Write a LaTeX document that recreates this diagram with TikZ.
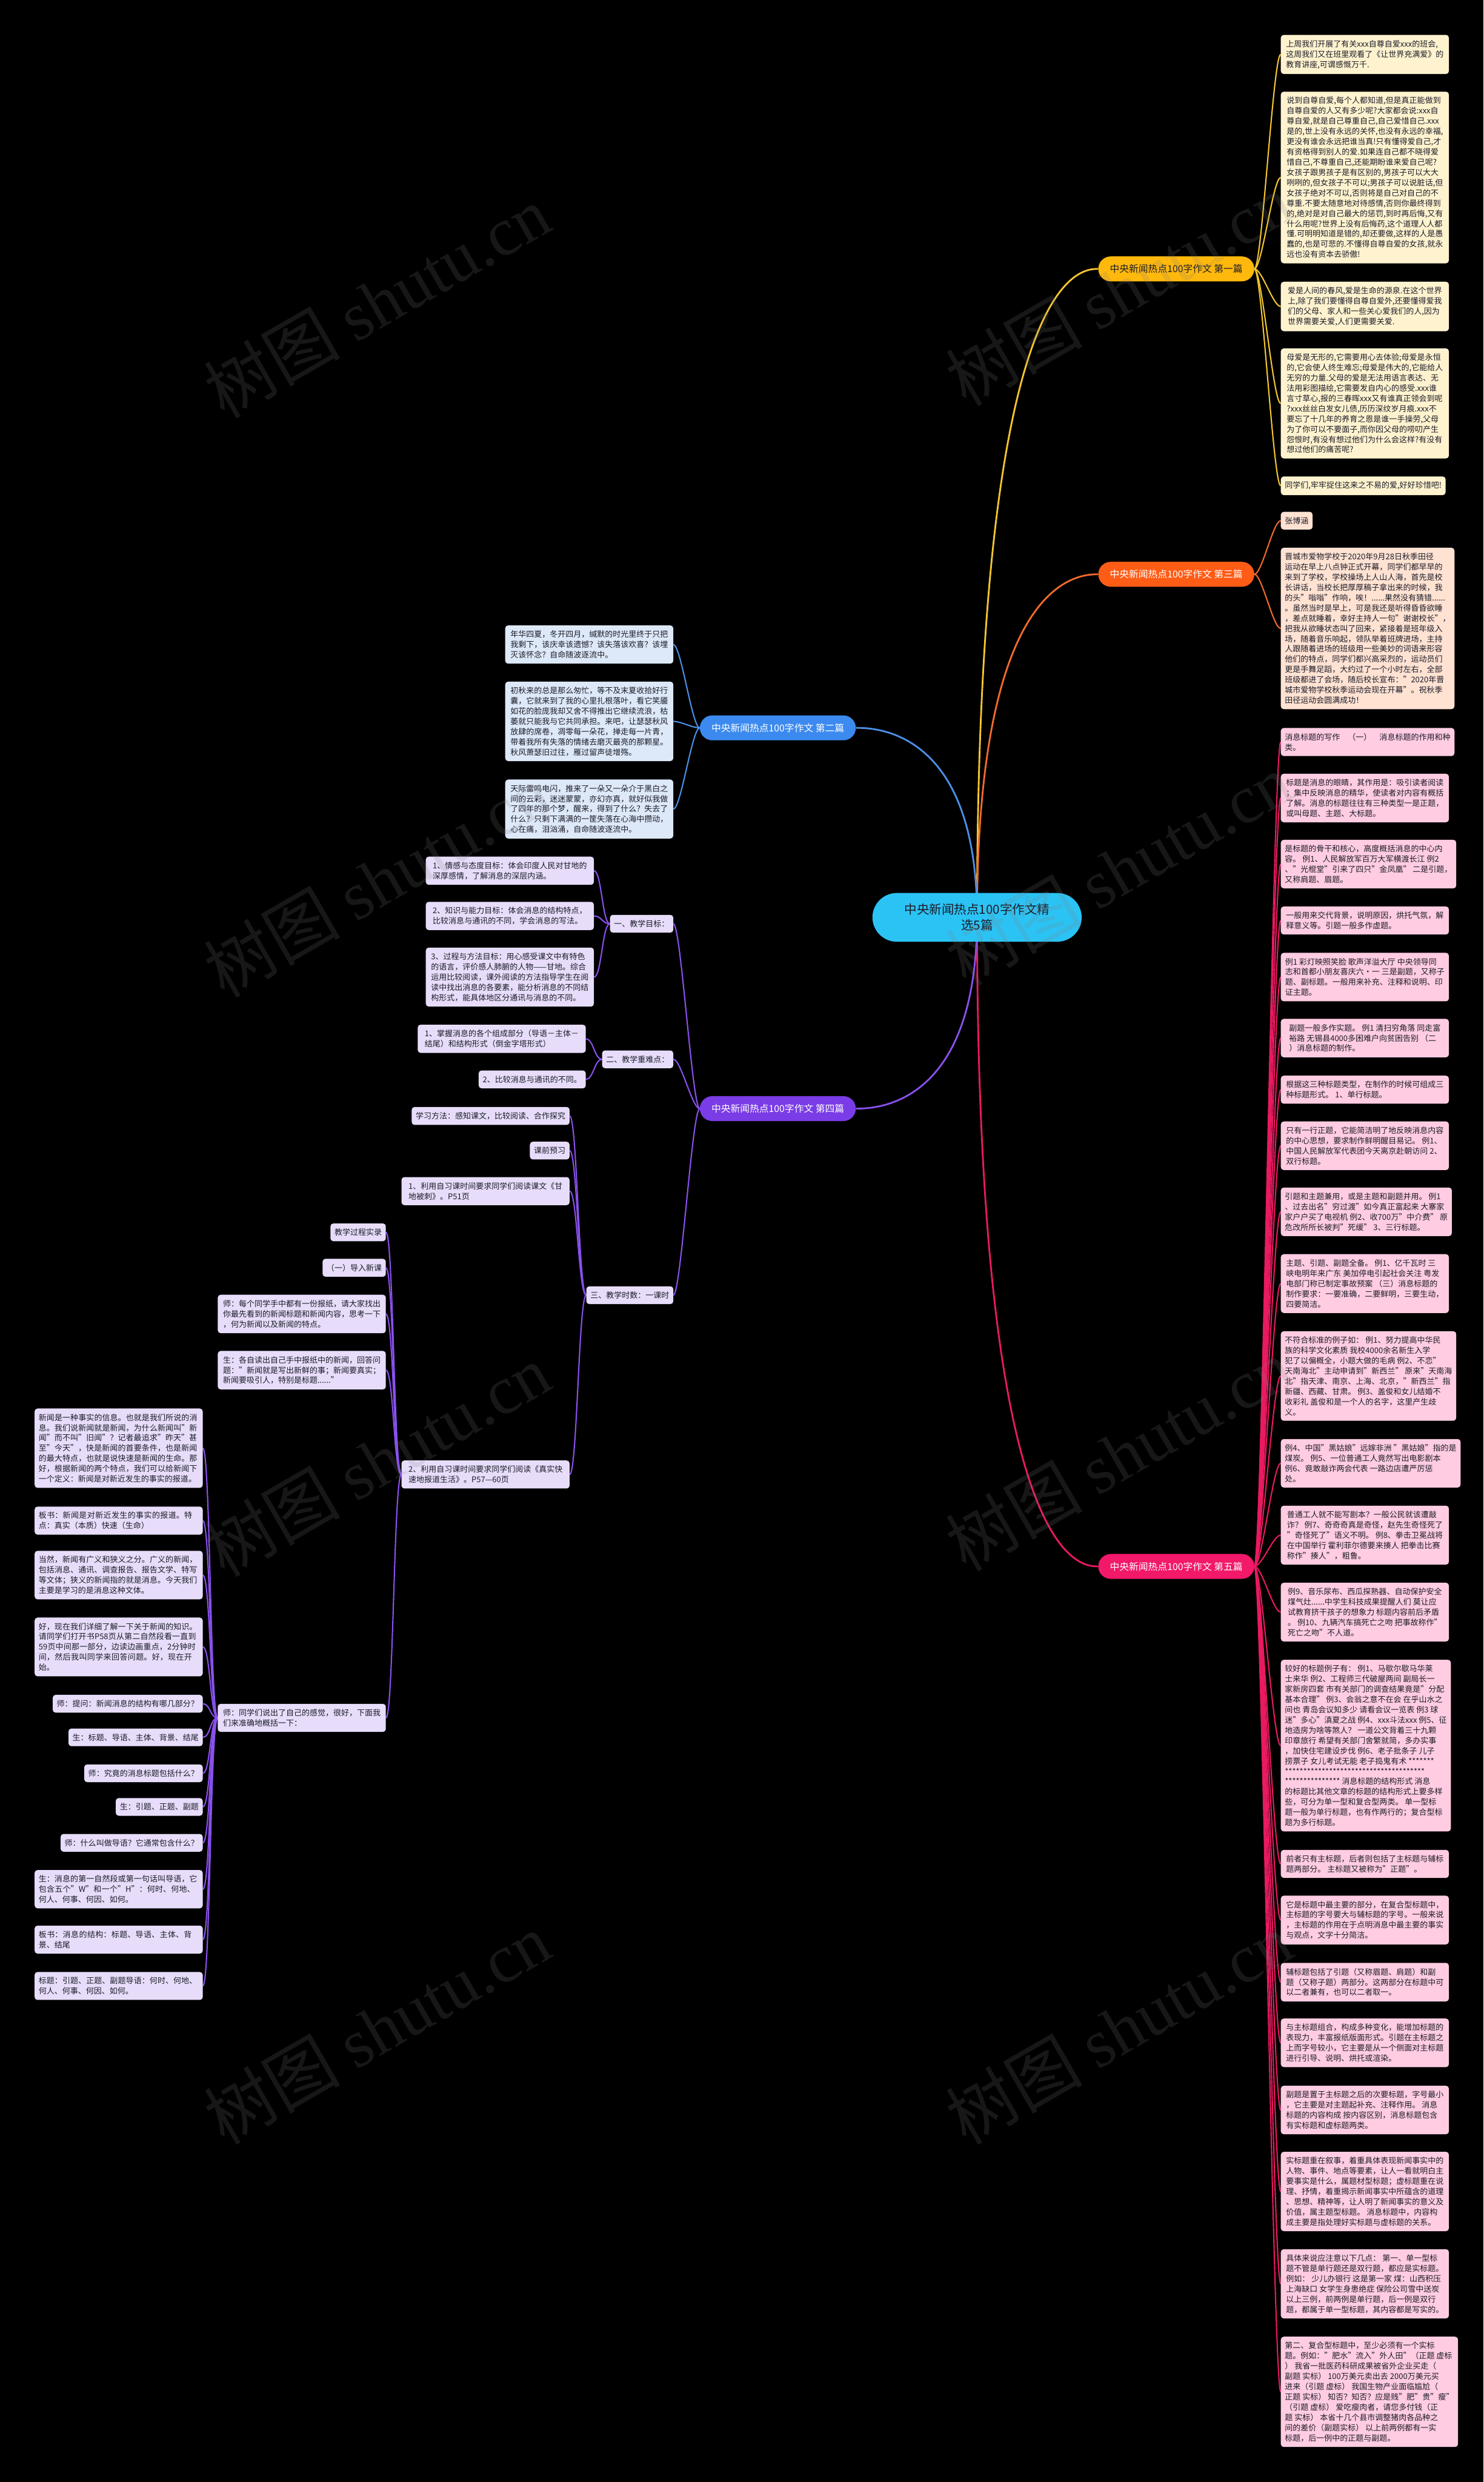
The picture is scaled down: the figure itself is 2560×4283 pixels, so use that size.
\documentclass[tikz,border=0pt]{standalone}
\usepackage{fontspec}
\setmainfont{Noto Sans CJK SC}
\newfontfamily\wmlatin{Liberation Serif}
\usetikzlibrary{backgrounds}
\definecolor{rootc}{HTML}{2BC3F4}
\definecolor{ambc}{HTML}{FFB80C}
\definecolor{ambl}{HTML}{F3C531}
\definecolor{ambf}{HTML}{FFF3CF}
\definecolor{orac}{HTML}{FF5C16}
\definecolor{oral}{HTML}{F26A2E}
\definecolor{oraf}{HTML}{FFE2D2}
\definecolor{bluc}{HTML}{3C8AF0}
\definecolor{blul}{HTML}{4C8FE6}
\definecolor{bluf}{HTML}{DDE8F8}
\definecolor{purc}{HTML}{7A3CE6}
\definecolor{purl}{HTML}{8950EC}
\definecolor{purf}{HTML}{E7DDFA}
\definecolor{pnkc}{HTML}{F2186A}
\definecolor{pnkl}{HTML}{E81A60}
\definecolor{pnkf}{HTML}{FFCCE2}
\definecolor{inkc}{HTML}{1C1C28}
\newcommand\leaffont{\fontsize{13.6}{17.7}\selectfont}
\newcommand\brfont{\fontsize{16.5}{20}\selectfont}
\newcommand\rootfont{\fontsize{21.5}{27}\selectfont}
\newcommand\wmsize{\fontsize{118}{118}\selectfont}
\newcommand\wrapcjk{\XeTeXlinebreaklocale "zh"\XeTeXlinebreakskip=0pt plus 1pt\relax}
\begin{document}
\begin{tikzpicture}[x=1pt,y=-1pt,
  rootbox/.style={fill=rootc,text=inkc,rounded corners=42pt,minimum width=361pt,minimum height=84pt,align=center,font=\rootfont,inner sep=0pt},
  brbox/.style={rounded corners=21.5pt,minimum height=43pt,inner xsep=20pt,inner ysep=0pt,font=\brfont,text=white},
  leaf/.style={rounded corners=5pt,inner xsep=7pt,inner ysep=9pt,font=\leaffont,align=left,text=inkc},
  full/.style={minimum width=290pt},
  wrap/.style={text width=276pt,font=\leaffont\wrapcjk},
  lfy/.style={leaf,fill=ambf},
  lfo/.style={leaf,fill=oraf},
  lfb/.style={leaf,fill=bluf},
  lfv/.style={leaf,fill=purf},
  lfp/.style={leaf,fill=pnkf},
  trunk/.style={line width=3pt},
  link/.style={line width=2.2pt},
  wm/.style={text=gray,opacity=0.18,font=\wmsize,rotate=30}]
\begin{scope}[on background layer]
\fill[black] (0,0) rectangle (2560,4283);
\end{scope}
\useasboundingbox (0,0) rectangle (2560,4283);

% centre and main branches
\node[rootbox] (root) at (1686,1583) {中央新闻热点100字作文精\\选5篇};
\node[brbox,fill=ambc,text=inkc,anchor=west] (b1) at (1895,464) {中央新闻热点100字作文 第一篇};
\node[brbox,fill=orac,anchor=west] (b3) at (1895,991) {中央新闻热点100字作文 第三篇};
\node[brbox,fill=pnkc,anchor=west] (b5) at (1895,2703) {中央新闻热点100字作文 第五篇};
\node[brbox,fill=bluc,anchor=east] (b2) at (1477,1256) {中央新闻热点100字作文 第二篇};
\node[brbox,fill=purc,anchor=east] (b4) at (1477,1913) {中央新闻热点100字作文 第四篇};

% 第一篇
\node[lfy,full,anchor=north west] (l1a) at (2210,60) {上周我们开展了有关xxx自尊自爱xxx的班会,\\这周我们又在班里观看了《让世界充满爱》的\\教育讲座,可谓感慨万千.};
\node[lfy,full,anchor=north west] (l1b) at (2210,158) {说到自尊自爱,每个人都知道,但是真正能做到\\自尊自爱的人又有多少呢?大家都会说:xxx自\\尊自爱,就是自己尊重自己,自己爱惜自己.xxx\\是的,世上没有永远的关怀,也没有永远的幸福,\\更没有谁会永远把谁当真!只有懂得爱自己,才\\有资格得到别人的爱.如果连自己都不晓得爱\\惜自己,不尊重自己,还能期盼谁来爱自己呢?\\女孩子跟男孩子是有区别的,男孩子可以大大\\咧咧的,但女孩子不可以;男孩子可以说脏话,但\\女孩子绝对不可以,否则将是自己对自己的不\\尊重.不要太随意地对待感情,否则你最终得到\\的,绝对是对自己最大的惩罚,到时再后悔,又有\\什么用呢?世界上没有后悔药,这个道理人人都\\懂.可明明知道是错的,却还要做,这样的人是愚\\蠢的,也是可悲的.不懂得自尊自爱的女孩,就永\\远也没有资本去骄傲!};
\node[lfy,full,anchor=north west] (l1c) at (2210,486) {爱是人间的春风,爱是生命的源泉.在这个世界\\上,除了我们要懂得自尊自爱外,还要懂得爱我\\们的父母、家人和一些关心爱我们的人,因为\\世界需要关爱,人们更需要关爱.};
\node[lfy,full,anchor=north west] (l1d) at (2210,601) {母爱是无形的,它需要用心去体验;母爱是永恒\\的,它会使人终生难忘;母爱是伟大的,它能给人\\无穷的力量.父母的爱是无法用语言表达、无\\法用彩图描绘,它需要发自内心的感受.xxx谁\\言寸草心,报的三春晖xxx又有谁真正领会到呢\\?xxx丝丝白发女儿债,历历深纹岁月痕.xxx不\\要忘了十几年的养育之恩是谁一手操劳,父母\\为了你可以不要面子,而你因父母的唠叨产生\\怨恨时,有没有想过他们为什么会这样?有没有\\想过他们的痛苦呢?};
\node[lfy,anchor=north west] (l1e) at (2210,822) {同学们,牢牢捉住这来之不易的爱,好好珍惜吧!};

% 第三篇
\node[lfo,anchor=north west] (l3a) at (2210,883) {张博涵};
\node[lfo,full,anchor=north west] (l3b) at (2210,945) {晋城市爱物学校于2020年9月28日秋季田径\\运动在早上八点钟正式开幕，同学们都早早的\\来到了学校，学校操场上人山人海，首先是校\\长讲话，当校长把厚厚稿子拿出来的时候，我\\的头"嗡嗡"作响，唉！......果然没有猜错......\\。虽然当时是早上，可是我还是听得昏昏欲睡\\，差点就睡着，幸好主持人一句"谢谢校长"，\\把我从欲睡状态叫了回来，紧接着是班年级入\\场，随着音乐响起，领队举着班牌进场，主持\\人跟随着进场的班级用一些美妙的词语来形容\\他们的特点，同学们都兴高采烈的，运动员们\\更是手舞足蹈，大约过了一个小时左右，全部\\班级都进了会场，随后校长宣布："2020年晋\\城市爱物学校秋季运动会现在开幕"。祝秋季\\田径运动会圆满成功！};

% 第五篇
\node[lfp,full,anchor=north west] (l5a) at (2210,1256) {消息标题的写作　（一）　消息标题的作用和种\\类。};
\node[lfp,full,anchor=north west] (l5b) at (2210,1335) {标题是消息的眼睛，其作用是：吸引读者阅读\\；集中反映消息的精华，使读者对内容有概括\\了解。消息的标题往往有三种类型一是正题，\\或叫母题、主题、大标题。};
\node[lfp,full,anchor=north west] (l5c) at (2210,1449) {是标题的骨干和核心，高度概括消息的中心内\\容。 例1、人民解放军百万大军横渡长江 例2\\、"光棍堂"引来了四只"金凤凰" 二是引题，\\又称肩题、眉题。};
\node[lfp,full,anchor=north west] (l5d) at (2210,1564) {一般用来交代背景，说明原因，烘托气氛，解\\释意义等。引题一般多作虚题。};
\node[lfp,full,anchor=north west] (l5e) at (2210,1644) {例1 彩灯映照笑脸 歌声洋溢大厅 中央领导同\\志和首都小朋友喜庆六·一 三是副题，又称子\\题、副标题。一般用来补充、注释和说明、印\\证主题。};
\node[lfp,full,anchor=north west] (l5f) at (2210,1758) {副题一般多作实题。 例1 清扫穷角落 同走富\\裕路 无锡县4000多困难户向贫困告别 （二\\）消息标题的制作。};
\node[lfp,full,anchor=north west] (l5g) at (2210,1856) {根据这三种标题类型，在制作的时候可组成三\\种标题形式。 1、单行标题。};
\node[lfp,full,anchor=north west] (l5h) at (2210,1935) {只有一行正题，它能简洁明了地反映消息内容\\的中心思想，要求制作鲜明醒目易记。 例1、\\中国人民解放军代表团今天离京赴朝访问 2、\\双行标题。};
\node[lfp,full,anchor=north west] (l5i) at (2210,2049) {引题和主题兼用，或是主题和副题并用。 例1\\、过去出名"穷过渡"如今真正富起来 大寨家\\家户户买了电视机 例2、收700万"中介费" 原\\危改所所长被判"死缓" 3、三行标题。};
\node[lfp,full,anchor=north west] (l5j) at (2210,2164) {主题、引题、副题全备。 例1、亿千瓦时 三\\峡电明年来广东 美加停电引起社会关注 粤发\\电部门称已制定事故预案 （三）消息标题的\\制作要求：一要准确，二要鲜明，三要生动，\\四要简洁。};
\node[lfp,full,anchor=north west] (l5k) at (2210,2297) {不符合标准的例子如：  例1、努力提高中华民\\族的科学文化素质 我校4000余名新生入学\\犯了以偏概全，小题大做的毛病 例2、不恋"\\天南海北"主动申请到"新西兰" 原来"天南海\\北"指天津、南京、上海、北京，"新西兰"指\\新疆、西藏、甘肃。 例3、盖俊和女儿结婚不\\收彩礼 盖俊和是一个人的名字，这里产生歧\\义。};
\node[lfp,full,anchor=north west] (l5l) at (2210,2483) {例4、中国"黑姑娘"远嫁非洲 "黑姑娘"指的是\\煤炭。 例5、一位普通工人竟然写出电影剧本\\例6、竟敢敲诈两会代表 一路边店遭严厉惩\\处。};
\node[lfp,full,anchor=north west] (l5m) at (2210,2598) {普通工人就不能写剧本？一般公民就该遭敲\\诈？ 例7、奇奇奇真是奇怪，赵先生奇怪死了\\"奇怪死了"语义不明。 例8、拳击卫冕战将\\在中国举行 霍利菲尔德要来揍人 把拳击比赛\\称作"揍人"，粗鲁。};
\node[lfp,full,anchor=north west] (l5n) at (2210,2731) {例9、音乐尿布、西瓜探熟器、自动保护安全\\煤气灶......中学生科技成果提醒人们 莫让应\\试教育挤干孩子的想象力 标题内容前后矛盾\\。 例10、九辆汽车搞死亡之吻 把事故称作"\\死亡之吻"不人道。};
\node[lfp,full,anchor=north west] (l5o) at (2210,2864) {较好的标题例子有：  例1、马歇尔歇马华莱\\士来华 例2、工程师三代破屋两间 副局长一\\家新房四套 市有关部门的调查结果竟是"分配\\基本合理" 例3、会翁之意不在会 在乎山水之\\间也 青岛会议知多少 请看会议一览表 例3 球\\迷"多心"滇夏之战 例4、xxx斗法xxx 例5、征\\地造房为啥等煞人？ 一道公文背着三十九颗\\印章旅行 希望有关部门舍繁就简，多办实事\\，加快住宅建设步伐 例6、老子批条子 儿子\\捞票子 女儿考试无能 老子捣鬼有术 *******\\**************************************\\*************** 消息标题的结构形式 消息\\的标题比其他文章的标题的结构形式上要多样\\些，可分为单一型和复合型两类。 单一型标\\题一般为单行标题，也有作两行的；复合型标\\题为多行标题。};
\node[lfp,full,anchor=north west] (l5p) at (2210,3192) {前者只有主标题，后者则包括了主标题与辅标\\题两部分。 主标题又被称为"正题"。};
\node[lfp,full,anchor=north west] (l5q) at (2210,3271) {它是标题中最主要的部分，在复合型标题中，\\主标题的字号要大与辅标题的字号。一般来说\\，主标题的作用在于点明消息中最主要的事实\\与观点，文字十分简洁。};
\node[lfp,full,anchor=north west] (l5r) at (2210,3387) {辅标题包括了引题（又称眉题、肩题）和副\\题（又称子题）两部分。这两部分在标题中可\\以二者兼有，也可以二者取一。};
\node[lfp,full,anchor=north west] (l5s) at (2210,3483) {与主标题组合，构成多种变化，能增加标题的\\表现力，丰富报纸版面形式。引题在主标题之\\上而字号较小，它主要是从一个侧面对主标题\\进行引导、说明、烘托或渲染。};
\node[lfp,full,anchor=north west] (l5t) at (2210,3599) {副题是置于主标题之后的次要标题，字号最小\\，它主要是对主题起补充、注释作用。 消息\\标题的内容构成 按内容区别，消息标题包含\\有实标题和虚标题两类。};
\node[lfp,full,anchor=north west] (l5u) at (2210,3713) {实标题重在叙事，着重具体表现新闻事实中的\\人物、事件、地点等要素，让人一看就明白主\\要事实是什么，属题材型标题；虚标题重在说\\理、抒情，着重揭示新闻事实中所蕴含的道理\\、思想、精神等，让人明了新闻事实的意义及\\价值，属主题型标题。 消息标题中，内容构\\成主要是指处理好实标题与虚标题的关系。};
\node[lfp,full,anchor=north west] (l5v) at (2210,3881) {具体来说应注意以下几点：  第一、单一型标\\题不管是单行题还是双行题，都应是实标题。\\例如： 少儿办银行 这是第一家 煤：山西积压\\上海缺口 女学生身患绝症 保险公司雪中送炭\\以上三例，前两例是单行题，后一例是双行\\题，都属于单一型标题，其内容都是写实的。};
\node[lfp,full,anchor=north west] (l5w) at (2210,4032) {第二、复合型标题中，至少必须有一个实标\\题。例如："肥水"流入"外人田"（正题 虚标\\） 我省一批医药科研成果被省外企业买走（\\副题 实标） 100万美元卖出去 2000万美元买\\进来（引题 虚标） 我国生物产业面临尴尬（\\正题 实标） 知否？知否？应是贱"肥"贵"瘦"\\（引题 虚标） 爱吃瘦肉者，请您多付钱（正\\题 实标） 本省十几个县市调整猪肉各品种之\\间的差价（副题实标） 以上前两例都有一实\\标题，后一例中的正题与副题。};

% 第二篇
\node[lfb,full,anchor=north east] (l2a) at (1162,1079) {年华四夏，冬开四月，缄默的时光里终于只把\\我剩下，该庆幸该遗憾？该失落该欢喜？该埋\\灭该怀念？自命随波逐流中。};
\node[lfb,full,anchor=north east] (l2b) at (1162,1176) {初秋来的总是那么匆忙，等不及末夏收拾好行\\囊，它就来到了我的心里扎根落叶，看它笑靥\\如花的脸庞我却又舍不得推出它继续流浪，枯\\萎就只能我与它共同承担。来吧，让瑟瑟秋风\\放肆的席卷，凋零每一朵花，掸走每一片青，\\带着我所有失落的情绪去磨灭最亮的那颗星。\\秋风萧瑟旧过往，雁过留声徒增殇。};
\node[lfb,full,anchor=north east] (l2c) at (1162,1345) {天际雷鸣电闪，推来了一朵又一朵介于黑白之\\间的云彩，迷迷蒙蒙，亦幻亦真，就好似我做\\了四年的那个梦，醒来，得到了什么？失去了\\什么？只剩下满满的一筐失落在心海中攒动，\\心在痛，泪汹涌，自命随波逐流中。};

% 第四篇
\node[lfv,anchor=east] (t1) at (1162,1594) {一、教学目标：};
\node[lfv,anchor=east] (t2) at (1162,1828) {二、教学重难点：};
\node[lfv,anchor=east] (t3) at (1162,2235) {三、教学时数：一课时};
\node[lfv,full,anchor=north east] (g1) at (1025,1478) {1、情感与态度目标：体会印度人民对甘地的\\深厚感情，了解消息的深层内涵。};
\node[lfv,full,anchor=north east] (g2) at (1025,1556) {2、知识与能力目标：体会消息的结构特点，\\比较消息与通讯的不同，学会消息的写法。};
\node[lfv,full,anchor=north east] (g3) at (1025,1635) {3、过程与方法目标：用心感受课文中有特色\\的语言，评价感人肺腑的人物——甘地。综合\\运用比较阅读，课外阅读的方法指导学生在阅\\读中找出消息的各要素，能分析消息的不同结\\构形式，能具体地区分通讯与消息的不同。};
\node[lfv,full,anchor=north east] (d1) at (1011,1768) {1、掌握消息的各个组成部分（导语－主体－\\结尾）和结构形式（倒金字塔形式）};
\node[lfv,anchor=north east] (d2) at (1011,1847) {2、比较消息与通讯的不同。};
\node[lfv,anchor=north east] (s1) at (983,1910) {学习方法：感知课文，比较阅读、合作探究};
\node[lfv,anchor=north east] (s2) at (983,1970) {课前预习};
\node[lfv,full,anchor=north east] (s3) at (983,2031) {1、利用自习课时间要求同学们阅读课文《甘\\地被刺》。P51页};
\node[lfv,full,anchor=north east] (s4) at (983,2520) {2、利用自习课时间要求同学们阅读《真实快\\速地报道生活》。P57—60页};
\node[lfv,anchor=north east] (p1) at (666,2111) {教学过程实录};
\node[lfv,anchor=north east] (p2) at (666,2172) {（一）导入新课};
\node[lfv,full,anchor=north east] (p3) at (666,2234) {师：每个同学手中都有一份报纸，请大家找出\\你最先看到的新闻标题和新闻内容，思考一下\\，何为新闻以及新闻的特点。};
\node[lfv,full,anchor=north east] (p4) at (666,2331) {生：各自读出自己手中报纸中的新闻，回答问\\题："新闻就是写出新鲜的事；新闻要真实；\\新闻要吸引人，特别是标题......"};
\node[lfv,full,anchor=north east] (p5) at (666,2940) {师：同学们说出了自己的感觉，很好，下面我\\们来准确地概括一下：};
\node[lfv,wrap,anchor=east] (q1) at (350,2499) {新闻是一种事实的信息。也就是我们所说的消息。我们说新闻就是新闻，为什么新闻叫"新闻"而不叫"旧闻"？记者最追求"昨天"甚至"今天"，快是新闻的首要条件，也是新闻的最大特点，也就是说快速是新闻的生命。那好，根据新闻的两个特点，我们可以给新闻下一个定义：新闻是对新近发生的事实的报道。};
\node[lfv,wrap,anchor=east] (q2) at (350,2624) {板书：新闻是对新近发生的事实的报道。特点：真实（本质）快速（生命）};
\node[lfv,wrap,anchor=east] (q3) at (350,2718) {当然，新闻有广义和狭义之分。广义的新闻，包括消息、通讯、调查报告、报告文学、特写等文体；狭义的新闻指的就是消息。今天我们主要是学习的是消息这种文体。};
\node[lfv,wrap,anchor=east] (q4) at (350,2842) {好，现在我们详细了解一下关于新闻的知识。请同学们打开书P58页从第二自然段看一直到59页中间那一部分，边读边画重点，2分钟时间，然后我叫同学来回答问题。好，现在开始。};
\node[lfv,anchor=east] (q5) at (350,2940) {师：提问：新闻消息的结构有哪几部分？};
\node[lfv,anchor=east] (q6) at (350,2998) {生：标题、导语、主体、背景、结尾};
\node[lfv,anchor=east] (q7) at (350,3060) {师：究竟的消息标题包括什么？};
\node[lfv,anchor=east] (q8) at (350,3118) {生：引题、正题、副题};
\node[lfv,anchor=east] (q9) at (350,3180) {师：什么叫做导语？它通常包含什么？};
\node[lfv,wrap,anchor=east] (q10) at (350,3260) {生：消息的第一自然段或第一句话叫导语，它包含五个"W"和一个"H"：何时、何地、何人、何事、何因、如何。};
\node[lfv,wrap,anchor=east] (q11) at (350,3347) {板书：消息的结构：标题、导语、主体、背景、结尾};
\node[lfv,wrap,anchor=east] (q12) at (350,3427) {标题：引题、正题、副题导语：何时、何地、何人、何事、何因、如何。};

\begin{scope}[on background layer]
\draw[trunk,ambl] (root.center) .. controls (root.center |- b1.west) and +(-30,0) .. (b1.west);
\draw[trunk,oral] (root.center) .. controls (root.center |- b3.west) and +(-30,0) .. (b3.west);
\draw[trunk,pnkl] (root.center) .. controls (root.center |- b5.west) and +(-30,0) .. (b5.west);
\draw[trunk,blul] (root.center) .. controls (root.center |- b2.east) and +(30,0) .. (b2.east);
\draw[trunk,purl] (root.center) .. controls (root.center |- b4.east) and +(30,0) .. (b4.east);
%\draw[trunk,purl] (root.south) -- (b4.east);
\draw[link,ambl] (b1.east) .. controls +(13,0) and +(-13,0) .. (l1a.west);
\draw[link,ambl] (b1.east) .. controls +(13,0) and +(-13,0) .. (l1b.west);
\draw[link,ambl] (b1.east) .. controls +(13,0) and +(-13,0) .. (l1c.west);
\draw[link,ambl] (b1.east) .. controls +(13,0) and +(-13,0) .. (l1d.west);
\draw[link,ambl] (b1.east) .. controls +(13,0) and +(-13,0) .. (l1e.west);
\draw[link,oral] (b3.east) .. controls +(13,0) and +(-13,0) .. (l3a.west);
\draw[link,oral] (b3.east) .. controls +(13,0) and +(-13,0) .. (l3b.west);
\draw[link,pnkl] (b5.east) .. controls +(13,0) and +(-13,0) .. (l5a.west);
\draw[link,pnkl] (b5.east) .. controls +(13,0) and +(-13,0) .. (l5b.west);
\draw[link,pnkl] (b5.east) .. controls +(13,0) and +(-13,0) .. (l5c.west);
\draw[link,pnkl] (b5.east) .. controls +(13,0) and +(-13,0) .. (l5d.west);
\draw[link,pnkl] (b5.east) .. controls +(13,0) and +(-13,0) .. (l5e.west);
\draw[link,pnkl] (b5.east) .. controls +(13,0) and +(-13,0) .. (l5f.west);
\draw[link,pnkl] (b5.east) .. controls +(13,0) and +(-13,0) .. (l5g.west);
\draw[link,pnkl] (b5.east) .. controls +(13,0) and +(-13,0) .. (l5h.west);
\draw[link,pnkl] (b5.east) .. controls +(13,0) and +(-13,0) .. (l5i.west);
\draw[link,pnkl] (b5.east) .. controls +(13,0) and +(-13,0) .. (l5j.west);
\draw[link,pnkl] (b5.east) .. controls +(13,0) and +(-13,0) .. (l5k.west);
\draw[link,pnkl] (b5.east) .. controls +(13,0) and +(-13,0) .. (l5l.west);
\draw[link,pnkl] (b5.east) .. controls +(13,0) and +(-13,0) .. (l5m.west);
\draw[link,pnkl] (b5.east) .. controls +(13,0) and +(-13,0) .. (l5n.west);
\draw[link,pnkl] (b5.east) .. controls +(13,0) and +(-13,0) .. (l5o.west);
\draw[link,pnkl] (b5.east) .. controls +(13,0) and +(-13,0) .. (l5p.west);
\draw[link,pnkl] (b5.east) .. controls +(13,0) and +(-13,0) .. (l5q.west);
\draw[link,pnkl] (b5.east) .. controls +(13,0) and +(-13,0) .. (l5r.west);
\draw[link,pnkl] (b5.east) .. controls +(13,0) and +(-13,0) .. (l5s.west);
\draw[link,pnkl] (b5.east) .. controls +(13,0) and +(-13,0) .. (l5t.west);
\draw[link,pnkl] (b5.east) .. controls +(13,0) and +(-13,0) .. (l5u.west);
\draw[link,pnkl] (b5.east) .. controls +(13,0) and +(-13,0) .. (l5v.west);
\draw[link,pnkl] (b5.east) .. controls +(13,0) and +(-13,0) .. (l5w.west);
\draw[link,blul] (b2.west) .. controls +(-13,0) and +(13,0) .. (l2a.east);
\draw[link,blul] (b2.west) .. controls +(-13,0) and +(13,0) .. (l2b.east);
\draw[link,blul] (b2.west) .. controls +(-13,0) and +(13,0) .. (l2c.east);
\draw[link,purl] (b4.west) .. controls +(-13,0) and +(13,0) .. (t1.east);
\draw[link,purl] (b4.west) .. controls +(-13,0) and +(13,0) .. (t2.east);
\draw[link,purl] (b4.west) .. controls +(-13,0) and +(13,0) .. (t3.east);
\draw[link,purl] (t1.west) .. controls +(-13,0) and +(13,0) .. (g1.east);
\draw[link,purl] (t1.west) .. controls +(-13,0) and +(13,0) .. (g2.east);
\draw[link,purl] (t1.west) .. controls +(-13,0) and +(13,0) .. (g3.east);
\draw[link,purl] (t2.west) .. controls +(-13,0) and +(13,0) .. (d1.east);
\draw[link,purl] (t2.west) .. controls +(-13,0) and +(13,0) .. (d2.east);
\draw[link,purl] (t3.west) .. controls +(-13,0) and +(13,0) .. (s1.east);
\draw[link,purl] (t3.west) .. controls +(-13,0) and +(13,0) .. (s2.east);
\draw[link,purl] (t3.west) .. controls +(-13,0) and +(13,0) .. (s3.east);
\draw[link,purl] (t3.west) .. controls +(-13,0) and +(13,0) .. (s4.east);
\draw[link,purl] (s4.west) .. controls +(-13,0) and +(13,0) .. (p1.east);
\draw[link,purl] (s4.west) .. controls +(-13,0) and +(13,0) .. (p2.east);
\draw[link,purl] (s4.west) .. controls +(-13,0) and +(13,0) .. (p3.east);
\draw[link,purl] (s4.west) .. controls +(-13,0) and +(13,0) .. (p4.east);
\draw[link,purl] (s4.west) .. controls +(-13,0) and +(13,0) .. (p5.east);
\draw[link,purl] (p5.west) .. controls +(-13,0) and +(13,0) .. (q1.east);
\draw[link,purl] (p5.west) .. controls +(-13,0) and +(13,0) .. (q2.east);
\draw[link,purl] (p5.west) .. controls +(-13,0) and +(13,0) .. (q3.east);
\draw[link,purl] (p5.west) .. controls +(-13,0) and +(13,0) .. (q4.east);
\draw[link,purl] (p5.west) .. controls +(-13,0) and +(13,0) .. (q5.east);
\draw[link,purl] (p5.west) .. controls +(-13,0) and +(13,0) .. (q6.east);
\draw[link,purl] (p5.west) .. controls +(-13,0) and +(13,0) .. (q7.east);
\draw[link,purl] (p5.west) .. controls +(-13,0) and +(13,0) .. (q8.east);
\draw[link,purl] (p5.west) .. controls +(-13,0) and +(13,0) .. (q9.east);
\draw[link,purl] (p5.west) .. controls +(-13,0) and +(13,0) .. (q10.east);
\draw[link,purl] (p5.west) .. controls +(-13,0) and +(13,0) .. (q11.east);
\draw[link,purl] (p5.west) .. controls +(-13,0) and +(13,0) .. (q12.east);
\end{scope}

% watermarks
\node[wm] (wm1) at (650,520) {树图 {\wmlatin shutu.cn}};
\node[wm] (wm2) at (650,1520) {树图 {\wmlatin shutu.cn}};
\node[wm] (wm3) at (650,2520) {树图 {\wmlatin shutu.cn}};
\node[wm] (wm4) at (650,3500) {树图 {\wmlatin shutu.cn}};
\node[wm] (wm5) at (1930,500) {树图 {\wmlatin shutu.cn}};
\node[wm] (wm6) at (1930,1500) {树图 {\wmlatin shutu.cn}};
\node[wm] (wm7) at (1930,2510) {树图 {\wmlatin shutu.cn}};
\node[wm] (wm8) at (1930,3500) {树图 {\wmlatin shutu.cn}};
\end{tikzpicture}
\end{document}
